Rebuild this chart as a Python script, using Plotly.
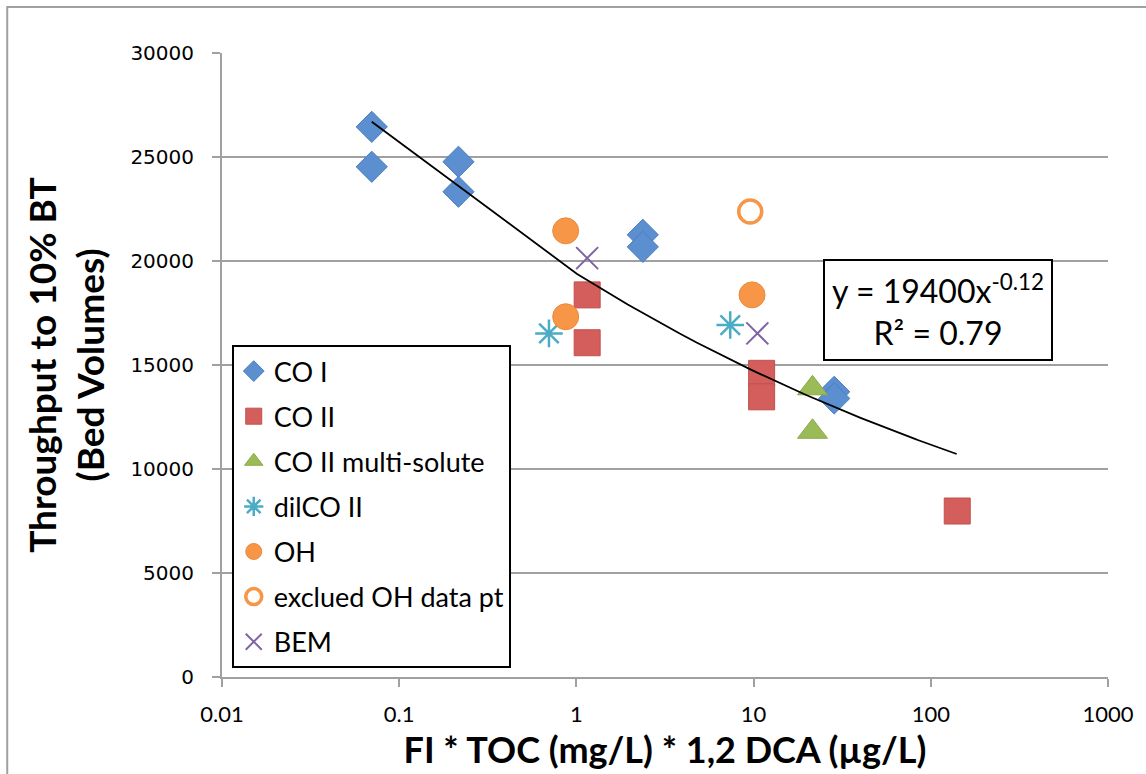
import numpy as np
import plotly.graph_objects as go

# ---- data ----
co1_x = [0.07, 0.07, 0.216, 0.216, 2.37, 2.37, 28.5, 28.5]
co1_y = [26450, 24530, 24770, 23330, 21260, 20680, 13710, 13390]

co2_x = [1.15, 1.15, 11.1, 11.1, 141]
co2_y = [18370, 16070, 14600, 13470, 7980]

co2m_x = [21.5, 21.5]
co2m_y = [13880, 11790]

dil_x = [0.70, 7.38]
dil_y = [16520, 16920]

oh_x = [0.87, 0.87, 9.8]
oh_y = [21450, 17320, 18370]

excl_x = [9.57]
excl_y = [22380]

bem_x = [1.15, 10.5]
bem_y = [20140, 16520]

# power trendline shown on chart: y = a * x^b
trend_a = 19400
trend_b = -0.12
trend_xmin = 0.07
trend_xmax = 140

x_ticks = [0.01, 0.1, 1, 10, 100, 1000]
x_tick_labels = ["0.01", "0.1", "1", "10", "100", "1000"]
y_ticks = [0, 5000, 10000, 15000, 20000, 25000, 30000]
y_tick_labels = ["0", "5000", "10000", "15000", "20000", "25000", "30000"]

FONT = "Lato, 'Open Sans', sans-serif"
YTICK_FONT = "'DejaVu Sans', Verdana, sans-serif"

fig = go.Figure()

def add(name, x, y, symbol, color, size, line_color=None, line_width=1):
    fig.add_trace(go.Scatter(
        x=x, y=y, mode="markers", name=name, legendgroup=name,
        marker=dict(symbol=symbol, size=size, color=color,
                    line=dict(color=line_color or color, width=line_width)),
    ))

add("CO I", co1_x, co1_y, "diamond", "#5B8FD0", 24, line_color="#4A7EBB", line_width=1)
add("CO II", co2_x, co2_y, "square", "#D45E5B", 26, line_color="#C0504D", line_width=1)
add("CO II multi-solute", co2m_x, co2m_y, "triangle-up", "#9BBB59", 26, line_color="#8AAA4B", line_width=1)
add("dilCO II", dil_x, dil_y, "asterisk-open", "#4BACC6", 23, line_width=2.5)
add("OH", oh_x, oh_y, "circle", "#F79646", 26, line_color="#E88A3C", line_width=1)
add("exclued OH data pt", excl_x, excl_y, "circle-open", "#F79646", 23, line_width=3.5)
add("BEM", bem_x, bem_y, "x-thin-open", "#8064A2", 22, line_width=2)

tx = np.linspace(trend_xmin, trend_xmax, 150)
ty = trend_a * tx ** trend_b
fig.add_trace(go.Scatter(x=tx, y=ty, mode="lines", line=dict(color="black", width=1.8),
                         showlegend=False, hoverinfo="skip"))

fig.update_layout(
    width=1146, height=774,
    margin=dict(l=222, r=35, t=53, b=97),
    paper_bgcolor="white", plot_bgcolor="white",
    font=dict(family=FONT, color="black", size=20),
    legend=dict(x=0.011, y=0.532, xanchor="left", yanchor="top",
                bordercolor="black", borderwidth=2, bgcolor="white",
                font=dict(size=27, family=FONT), itemwidth=30,
                tracegroupgap=7),
    showlegend=True,
)

fig.update_xaxes(
    type="log", range=[-2, 3], tickvals=x_ticks, ticktext=x_tick_labels,
    showgrid=False, showline=True, linecolor="#A0A0A0", linewidth=2,
    ticks="outside", tickcolor="#A0A0A0", ticklen=8, tickwidth=2,
    ticklabelstandoff=9, tickfont=dict(size=22, family=FONT),
    title=dict(text="<b>FI * TOC (mg/L) * 1,2 DCA (µg/L)</b>", font=dict(size=36, family=FONT), standoff=7),
    zeroline=False,
)
fig.update_yaxes(
    range=[0, 30000], tickvals=y_ticks, ticktext=y_tick_labels,
    showgrid=True, gridcolor="#A0A0A0", gridwidth=2,
    showline=True, linecolor="#A0A0A0", linewidth=2,
    ticks="outside", tickcolor="#A0A0A0", ticklen=8, tickwidth=2,
    ticklabelstandoff=14, tickfont=dict(size=20, family=YTICK_FONT),
    title=dict(text="<b>Throughput to 10% BT<br>(Bed Volumes)</b>", font=dict(size=37, family=FONT), standoff=14),
    zeroline=False,
)

fig.add_annotation(
    xref="paper", yref="paper", xanchor="center", yanchor="middle",
    x=(940 - 222) / 889, y=(676.5 - 310) / 623.5,
    text="y = 19400x<sup>-0.12</sup><br>R² = 0.79",
    showarrow=False, font=dict(size=32, family=FONT, color="black"),
    bordercolor="black", borderwidth=2, bgcolor="white", borderpad=7,
    align="center",
)

# outer chart border
fig.add_shape(type="rect", xref="paper", yref="paper",
              x0=-(222 - 6.5) / 889, x1=(1160 - 222) / 889,
              y0=-(790 - 676.5) / 623.5, y1=(676.5 - 7) / 623.5,
              line=dict(color="#A0A0A0", width=2), layer="below")

fig.write_html("out.html")
